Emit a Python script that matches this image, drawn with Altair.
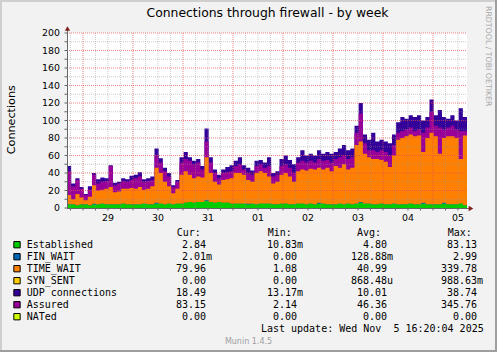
import altair as alt
import pandas as pd

W, H = 400, 175
T_END = 11520          # minutes from 28 Oct 16:20 to 5 Nov 16:20
BIN = 120              # 2-hour bins

day_labels = ["29", "30", "31", "01", "02", "03", "04", "05"]
day_noon = [1180 + 1440 * k for k in range(len(day_labels))]
y_ticks = list(range(0, 201, 10))
y_labels = list(range(0, 201, 20))

# values, one per 2-hour bin
established = [4, 4, 3, 4,
               4, 3, 4, 4, 5, 4, 4, 4, 4, 5, 4, 4,
               4, 4, 5, 4, 4, 5, 5, 4, 5, 4, 5, 5,
               6, 7, 6, 7, 7, 8, 7, 6, 7, 6, 6, 5,
               5, 5, 5, 4, 5, 4, 5, 5, 5, 4, 4, 5,
               5, 4, 4, 5, 5, 4, 5, 4, 5, 5, 4, 4,
               4, 5, 4, 5, 4, 5, 6, 5, 5, 4, 4, 5,
               4, 4, 5, 4, 4, 4, 5, 4, 4, 5, 4, 4,
               4, 4, 5, 4, 4, 4, 5, 3]
fin_wait = [0, 0, 0, 0,
            0, 0, 1, 0, 0, 0, 0, 0, 0, 0, 0, 0,
            0, 0, 0, 0, 0, 1, 0, 0, 0, 0, 0, 0,
            0, 0, 0, 0, 0, 1, 0, 0, 0, 0, 0, 0,
            0, 0, 0, 1, 0, 0, 0, 0, 0, 0, 0, 0,
            0, 0, 0, 0, 0, 0, 0, 0, 1, 0, 0, 0,
            0, 0, 0, 0, 0, 0, 1, 0, 0, 0, 0, 0,
            0, 0, 0, 0, 0, 0, 0, 0, 0, 1, 0, 0,
            0, 0, 1, 0, 0, 0, 0, 0]
# top of the TIME_WAIT stack (Established + FIN_WAIT + TIME_WAIT)
time_wait_top = [15, 10, 16, 12,
                 9, 13, 26, 20, 21, 22, 24, 18, 19, 22, 22, 23,
                 22, 24, 21, 22, 25, 46, 40, 30, 25, 17, 22, 38,
                 42, 38, 34, 36, 35, 58, 40, 30, 27, 32, 33, 34,
                 40, 40, 38, 32, 30, 40, 42, 40, 36, 28, 30, 38,
                 40, 36, 30, 42, 44, 43, 45, 44, 46, 44, 46, 42,
                 48, 46, 50, 44, 46, 72, 76, 62, 58, 56, 56, 55,
                 53, 47, 60, 78, 80, 82, 84, 82, 83, 64, 80, 86,
                 82, 62, 80, 82, 82, 80, 56, 83]
assured = [42, 25, 32, 22,
           15, 21, 38, 28, 30, 31, 48, 26, 28, 31, 30, 32,
           34, 36, 30, 31, 32, 60, 52, 42, 36, 24, 30, 52,
           56, 54, 50, 52, 44, 76, 52, 40, 34, 40, 41, 42,
           48, 50, 44, 40, 38, 48, 50, 46, 48, 36, 38, 48,
           50, 46, 40, 52, 54, 52, 54, 52, 56, 54, 55, 52,
           56, 58, 60, 56, 58, 86, 108, 74, 66, 66, 64, 66,
           64, 60, 72, 86, 88, 90, 92, 88, 90, 86, 92, 110,
           94, 92, 90, 92, 94, 90, 88, 88]
# top of the UDP stack
udp_top = [48, 28, 34, 24,
           16, 25, 40, 33, 35, 34, 49, 29, 30, 34, 33, 37,
           38, 41, 33, 34, 36, 68, 57, 46, 40, 26, 32, 58,
           64, 58, 54, 56, 48, 91, 58, 44, 38, 44, 47, 49,
           54, 58, 49, 46, 43, 54, 55, 52, 58, 40, 42, 56,
           60, 55, 50, 58, 66, 60, 62, 60, 66, 62, 64, 62,
           64, 68, 72, 66, 68, 94, 120, 84, 78, 86, 76, 78,
           76, 74, 84, 98, 104, 102, 106, 104, 106, 100, 104, 124,
           106, 112, 104, 102, 106, 100, 114, 104]

legend_labels = ["Established", "FIN_WAIT", "TIME_WAIT", "SYN_SENT",
                 "UDP connections", "Assured", "NATed"]
legend_colors = ["#00CC00", "#0066B3", "#FF8000", "#FFCC00",
                 "#330099", "#990099", "#CCFF00"]
cur_vals = ["2.84", "2.01m", "79.96", "0.00", "18.49", "83.15", "0.00"]
min_vals = ["10.83m", "0.00", "1.08", "0.00", "13.17m", "2.14", "0.00"]
avg_vals = ["4.80", "128.88m", "40.99", "868.48u", "10.01", "46.36", "0.00"]
max_vals = ["83.13", "2.99", "339.78", "988.63m", "38.74", "345.76", "0.00"]
headers = ["Cur:", "Min:", "Avg:", "Max:"]

# ---- table for step areas
n = len(established)
rows = []
for i in range(n + 1):
    j = min(i, n - 1)
    rows.append({
        "t": i * BIN,
        "est": established[j],
        "fin": established[j] + fin_wait[j],
        "tw": time_wait_top[j],
        "assured": assured[j],
        "udp": udp_top[j],
    })
df = pd.DataFrame(rows)

xscale = alt.Scale(domain=[0, T_END], nice=False, zero=False)
yscale = alt.Scale(domain=[0, 200], nice=False)

FONT = "DejaVu Sans"
MONO = "DejaVu Sans Mono"

base = alt.Chart(df).transform_calculate(zero="0")


def area(field, color):
    return base.mark_area(interpolate="step-after", color=color, opacity=1).encode(
        x=alt.X("t:Q", scale=xscale, axis=None),
        y=alt.Y(f"{field}:Q", scale=yscale, axis=None),
        y2=alt.Y2("zero:Q"),
    )


layers = [
    area("udp", "#330099"),
    area("assured", "#990099"),
    area("tw", "#FF8000"),
    area("fin", "#0066B3"),
    area("est", "#00CC00"),
]

# ---- grid (drawn on top, like rrdtool)
x_tick_vals = list(range(100, T_END, 360))
midnights = [460 + 1440 * k for k in range(8)]
v_minor = [v for v in x_tick_vals if v not in midnights]
h_major = [v for v in y_ticks if v % 20 == 0 and v > 0]
h_minor = [v for v in y_ticks if v % 20 != 0]

MINOR_C = "#8F8F8F"
MAJOR_C = "#DE5050"


def vrules(vals, color, op, y0, y1, dash=None):
    kw = dict(color=color, strokeWidth=1, strokeOpacity=op)
    if dash:
        kw["strokeDash"] = dash
    return alt.Chart(pd.DataFrame({"v": vals})).mark_rule(**kw).encode(
        x=alt.X("v:Q", scale=xscale, axis=None),
        y=alt.value(y0), y2=alt.value(y1))


def hrules(vals, color, op, x0, x1, dash=None):
    kw = dict(color=color, strokeWidth=1, strokeOpacity=op)
    if dash:
        kw["strokeDash"] = dash
    return alt.Chart(pd.DataFrame({"v": vals})).mark_rule(**kw).encode(
        y=alt.Y("v:Q", scale=yscale, axis=None),
        x=alt.value(x0), x2=alt.value(x1))


layers += [vrules(v_minor, MINOR_C, 0.45, 0, H, [1, 1]),
           hrules(h_minor, MINOR_C, 0.45, 0, W, [1, 1]),
           vrules(midnights, MAJOR_C, 0.7, 0, H, [1, 1]),
           hrules(h_major, MAJOR_C, 0.7, 0, W, [1, 1])]

one = pd.DataFrame({"a": [0]})

# ---- axis lines, ticks and arrows
AXIS_C = "#666666"
layers += [
    vrules(x_tick_vals, AXIS_C, 1, H + 0.5, H + 2.5),
    hrules(y_ticks, AXIS_C, 1, -2.5, 0.5),
    alt.Chart(one).mark_rule(color=AXIS_C, strokeWidth=1).encode(
        x=alt.value(0.5), y=alt.value(H + 0.5), y2=alt.value(-4)),
    alt.Chart(one).mark_rule(color=AXIS_C, strokeWidth=1).encode(
        y=alt.value(H + 0.5), x=alt.value(0), x2=alt.value(403)),
    alt.Chart(one).mark_point(shape="triangle-up", filled=True, color="#801F1F",
                              size=28, opacity=1).encode(
        x=alt.value(0.5), y=alt.value(-4.5)),
    alt.Chart(one).mark_point(shape="triangle-right", filled=True, color="#801F1F",
                              size=28, opacity=1).encode(
        x=alt.value(404), y=alt.value(H + 0.5)),
]

# ---- tick labels
layers += [
    alt.Chart(pd.DataFrame({"v": day_noon, "s": day_labels})).mark_text(
        font=FONT, fontSize=9.4, align="center", baseline="alphabetic",
        color="#000000").encode(
        x=alt.X("v:Q", scale=xscale, axis=None), y=alt.value(188), text="s:N"),
    alt.Chart(pd.DataFrame({"v": y_labels})).mark_text(
        font=FONT, fontSize=9.4, align="right", baseline="alphabetic",
        color="#000000", dy=3.4).encode(
        y=alt.Y("v:Q", scale=yscale, axis=None), x=alt.value(-7), text="v:N"),
]

# ---- frame shading
layers += [
    alt.Chart(one).mark_rule(color="#CFCFCF", strokeWidth=2).encode(
        x=alt.value(-67), x2=alt.value(430), y=alt.value(-32)),
    alt.Chart(one).mark_rule(color="#CFCFCF", strokeWidth=2).encode(
        x=alt.value(-66), y=alt.value(-33), y2=alt.value(319)),
    alt.Chart(one).mark_rule(color="#9E9E9E", strokeWidth=2).encode(
        x=alt.value(-67), x2=alt.value(430), y=alt.value(318)),
    alt.Chart(one).mark_rule(color="#9E9E9E", strokeWidth=2).encode(
        x=alt.value(429), y=alt.value(-33), y2=alt.value(319)),
]


def txt(text, x, y, size, font=FONT, align="left", color="#000000", angle=0):
    return alt.Chart(pd.DataFrame({"s": [text]})).mark_text(
        font=font, fontSize=size, align=align, baseline="alphabetic", color=color,
        angle=angle).encode(x=alt.value(x), y=alt.value(y), text="s:N")


layers += [
    txt("Connections through firewall - by week", 200.5, -16, 12.4, align="center"),
    txt("Connections", -52, 86.7, 11.2, align="center", angle=270),
    txt("RRDTOOL / TOBI OETIKER", 418.5, -27, 7.8, color="#A8A8A8", angle=90),
    txt("Munin 1.4.5", 181.5, 311, 8, align="center", color="#A0A0A0"),
    txt("Last update: Wed Nov\u00a0\u00a05 16:20:04 2025", 416.7, 299, 10,
        font=MONO, align="right"),
]

header_x = [109.7, 200.7, 290.0, 380.7]
for h, hx in zip(headers, header_x):
    layers.append(txt(h, hx, 203, 10, font=MONO))


def split(s):
    return (s[:-1], s[-1]) if s[-1].isalpha() else (s, "")


leg_rows = []
for i, (lab, col) in enumerate(zip(legend_labels, legend_colors)):
    leg_rows.append({"label": lab, "color": col, "yb": 215 + 12 * i,
                     "ym": 211.7 + 12 * i})
leg = pd.DataFrame(leg_rows)

layers.append(alt.Chart(leg).mark_square(size=40, filled=True, stroke="#000000",
                                         strokeWidth=1, opacity=1).encode(
    x=alt.value(-50), y=alt.Y("ym:Q", scale=None, axis=None),
    fill=alt.Fill("color:N", scale=None)))
layers.append(alt.Chart(leg).mark_text(font=MONO, fontSize=10, align="left",
                                       baseline="alphabetic", color="#000000").encode(
    x=alt.value(-40.3), y=alt.Y("yb:Q", scale=None, axis=None), text="label:N"))

col_end = [139, 230, 320, 410]
for vals, xe in zip([cur_vals, min_vals, avg_vals, max_vals], col_end):
    d = pd.DataFrame({"num": [split(v)[0] for v in vals],
                      "suf": [split(v)[1] for v in vals],
                      "yb": [215 + 12 * i for i in range(len(vals))]})
    layers.append(alt.Chart(d).mark_text(font=MONO, fontSize=10, align="right",
                                         baseline="alphabetic", color="#000000").encode(
        x=alt.value(xe), y=alt.Y("yb:Q", scale=None, axis=None), text="num:N"))
    layers.append(alt.Chart(d).mark_text(font=MONO, fontSize=10, align="left",
                                         baseline="alphabetic", color="#000000").encode(
        x=alt.value(xe), y=alt.Y("yb:Q", scale=None, axis=None), text="suf:N"))

chart = alt.layer(*layers).properties(
    width=W, height=H,
    autosize=alt.AutoSizeParams(type="none"),
    padding={"left": 67, "top": 33, "right": 30, "bottom": 144},
).configure(background="#F2F2F2").configure_view(fill="#FFFFFF", stroke=None)

chart.save("out.html", embed_options={"renderer": "svg", "actions": False})
